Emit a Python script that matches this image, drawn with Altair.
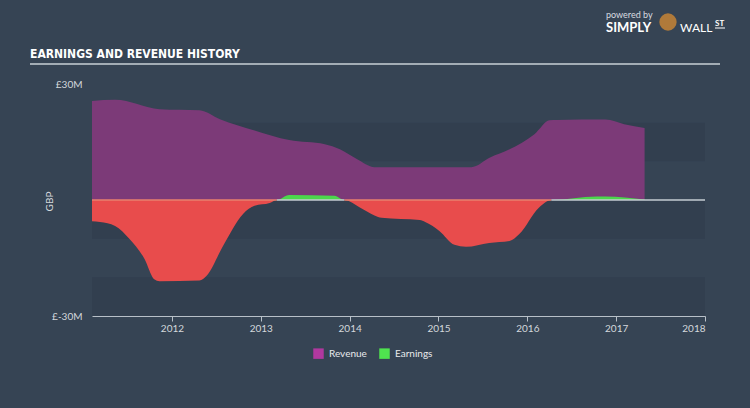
import altair as alt
import pandas as pd

# ---- data ----
rev_year = [2011.10, 2011.36, 2011.86, 2012.31, 2012.54, 2012.93, 2013.32, 2013.72,
            2013.89, 2014.08, 2014.28, 2015.37, 2015.58, 2015.80, 2016.08, 2016.25,
            2016.33, 2016.88, 2017.09, 2017.32]
rev_val = [25.6, 25.9, 23.5, 23.2, 20.9, 18.0, 15.5, 14.4,
           13.1, 10.6, 8.5, 8.5, 11.0, 13.1, 17.0, 20.6,
           20.7, 20.8, 19.6, 18.6]

earn_year = [2011.10, 2011.19, 2011.36, 2011.52, 2011.69, 2011.80, 2011.86, 2012.31,
             2012.39, 2012.57, 2012.80, 2012.93, 2013.10, 2013.18, 2013.32, 2013.83,
             2013.94, 2014.12, 2014.28, 2014.36, 2014.79, 2014.85, 2015.01, 2015.18,
             2015.31, 2015.57, 2015.80, 2015.91, 2016.13, 2016.27, 2016.78, 2016.88,
             2017.32]
earn_val = [-5.5, -5.7, -6.7, -10.0, -15.2, -20.5, -21.0, -20.8,
            -19.6, -12.1, -3.6, -1.5, -0.8, 0.0, 1.3, 1.1,
            0.0, -2.0, -4.0, -4.6, -5.2, -5.7, -8.0, -11.6,
            -12.1, -11.1, -10.6, -8.8, -2.0, 0.0, 0.9, 0.9,
            0.1]

x_ticks = [2012, 2013, 2014, 2015, 2016, 2017, 2018]
y_ticks = [-30, 30]
band_lo = [-30, -10, 10]
band_hi = [-20, 0, 20]
zero_start = [2011.10, 2013.18, 2013.94, 2016.27]
zero_end = [2013.18, 2013.94, 2016.27, 2018.0]
zero_kind = ["neg", "pos", "neg", "pos"]

BG = "#364454"
PURPLE_AREA = "#7c3a78"
RED = "#e84c4c"
GREEN = "#4cd64c"
LABEL = "#d4d8dc"
FONT = "Lato"

rev = pd.DataFrame({"year": rev_year, "value": rev_val, "series": "Revenue"})
earn = pd.DataFrame({"year": earn_year, "value": earn_val, "series": "Earnings"})
bands = pd.DataFrame({"lo": band_lo, "hi": band_hi})
zeros = pd.DataFrame({"x1": zero_start, "x2": zero_end, "kind": zero_kind})

xscale = alt.Scale(domain=[2011.10, 2018], nice=False, zero=False)
yscale = alt.Scale(domain=[-30, 30], nice=False)

xaxis = alt.Axis(values=x_ticks, format="d", grid=False, domainColor="#b8c0c8",
                 tickColor="#b8c0c8", tickSize=5, labelColor=LABEL, labelFont=FONT,
                 labelFontSize=10, labelPadding=2, title=None, domainWidth=1)
yaxis = alt.Axis(values=y_ticks, grid=False, domain=False, ticks=False,
                 labelExpr="'£' + datum.value + 'M'", labelColor=LABEL, labelFont=FONT,
                 labelFontSize=10, labelPadding=10, title="GBP", titleColor=LABEL,
                 titleFont=FONT, titleFontSize=10, titleFontWeight="normal",
                 titleX=-38, titleY=117, titleAlign="center", titleAngle=270)

band_layer = alt.Chart(bands).mark_rect(color="#222d3a", opacity=0.2).encode(
    y=alt.Y("lo:Q", scale=yscale, axis=yaxis),
    y2="hi:Q",
    x=alt.value(0), x2=alt.value(613),
)

color_scale = alt.Scale(domain=["Revenue", "Earnings"], range=["#b0389f", "#4fe34f"])
legend = alt.Legend(orient="none", legendX=221, legendY=264, direction="horizontal",
                    title=None, symbolType="square", symbolSize=110, symbolStrokeWidth=0,
                    symbolOpacity=1, labelColor="#e8eaec", labelFont=FONT, labelFontSize=10,
                    columnPadding=12, labelOffset=5)

rev_layer = alt.Chart(rev).mark_area(interpolate="monotone", fill=PURPLE_AREA).encode(
    x=alt.X("year:Q", scale=xscale, axis=xaxis),
    y=alt.Y("value:Q", scale=yscale),
    color=alt.Color("series:N", scale=color_scale, legend=legend),
)

neg_layer = alt.Chart(earn).transform_calculate(v="min(datum.value, 0)").mark_area(
    interpolate="monotone", color=RED).encode(
    x=alt.X("year:Q", scale=xscale),
    y=alt.Y("v:Q", scale=yscale),
)

pos_layer = alt.Chart(earn).transform_calculate(v="max(datum.value, 0)").mark_area(
    interpolate="monotone", fill=GREEN).encode(
    x=alt.X("year:Q", scale=xscale),
    y=alt.Y("v:Q", scale=yscale),
    color=alt.Color("series:N", scale=color_scale, legend=legend),
)

zero_neg = alt.Chart(zeros).transform_filter("datum.kind == 'neg'").mark_rule(
    strokeWidth=1.5, color="#e8806e").encode(
    x=alt.X("x1:Q", scale=xscale), x2="x2:Q", y=alt.datum(0))
zero_pos = alt.Chart(zeros).transform_filter("datum.kind == 'pos'").mark_rule(
    strokeWidth=1.5, color="#c4ccd2").encode(
    x=alt.X("x1:Q", scale=xscale), x2="x2:Q", y=alt.datum(0))

title_layer = alt.Chart(pd.DataFrame({"t": ["EARNINGS AND REVENUE HISTORY"]})).mark_text(
    align="left", baseline="alphabetic", fontSize=12, fontWeight="bold",
    font="Liberation Sans Narrow, DejaVu Sans Condensed, Roboto Condensed, Roboto, sans-serif",
    color="#ffffff").encode(text="t:N", x=alt.value(-62), y=alt.value(-26))

underline = alt.Chart(pd.DataFrame({"a": [1]})).mark_rule(color="#c8d0d6", strokeWidth=1.5).encode(
    x=alt.value(-62), x2=alt.value(628), y=alt.value(-20))

powered = alt.Chart(pd.DataFrame({"t": ["powered by"]})).mark_text(
    align="left", fontSize=9, font=FONT, color="#d8dce0").encode(
    text="t:N", x=alt.value(514), y=alt.value(-69))
simply = alt.Chart(pd.DataFrame({"t": ["SIMPLY"]})).mark_text(
    align="left", fontSize=13, fontWeight="bold", font=FONT, color="#ffffff").encode(
    text="t:N", x=alt.value(514), y=alt.value(-56))
wall = alt.Chart(pd.DataFrame({"t": ["WALL"]})).mark_text(
    align="left", fontSize=12, font=FONT, color="#ffffff").encode(
    text="t:N", x=alt.value(588), y=alt.value(-56))
st = alt.Chart(pd.DataFrame({"t": ["ST"]})).mark_text(
    align="left", fontSize=8, fontWeight="bold", font=FONT, color="#ffffff").encode(
    text="t:N", x=alt.value(623), y=alt.value(-60))
st_line = alt.Chart(pd.DataFrame({"a": [1]})).mark_rule(color="#ffffff", strokeWidth=1).encode(
    x=alt.value(623), x2=alt.value(633), y=alt.value(-56))
logo = alt.Chart(pd.DataFrame({"a": [1]})).mark_circle(size=300, color="#b07a3a", opacity=1).encode(
    x=alt.value(576), y=alt.value(-62))

chart = alt.layer(
    band_layer, rev_layer, neg_layer, pos_layer, zero_neg, zero_pos,
    title_layer, underline, powered, simply, wall, st, st_line, logo,
).properties(
    width=613, height=232,
    background=BG,
    padding={"left": 92, "top": 84, "right": 45, "bottom": 92},
    autosize=alt.AutoSizeParams(type="none"),
).configure_view(stroke=None)

chart.save("out.html", embed_options={"renderer": "svg", "actions": False})
